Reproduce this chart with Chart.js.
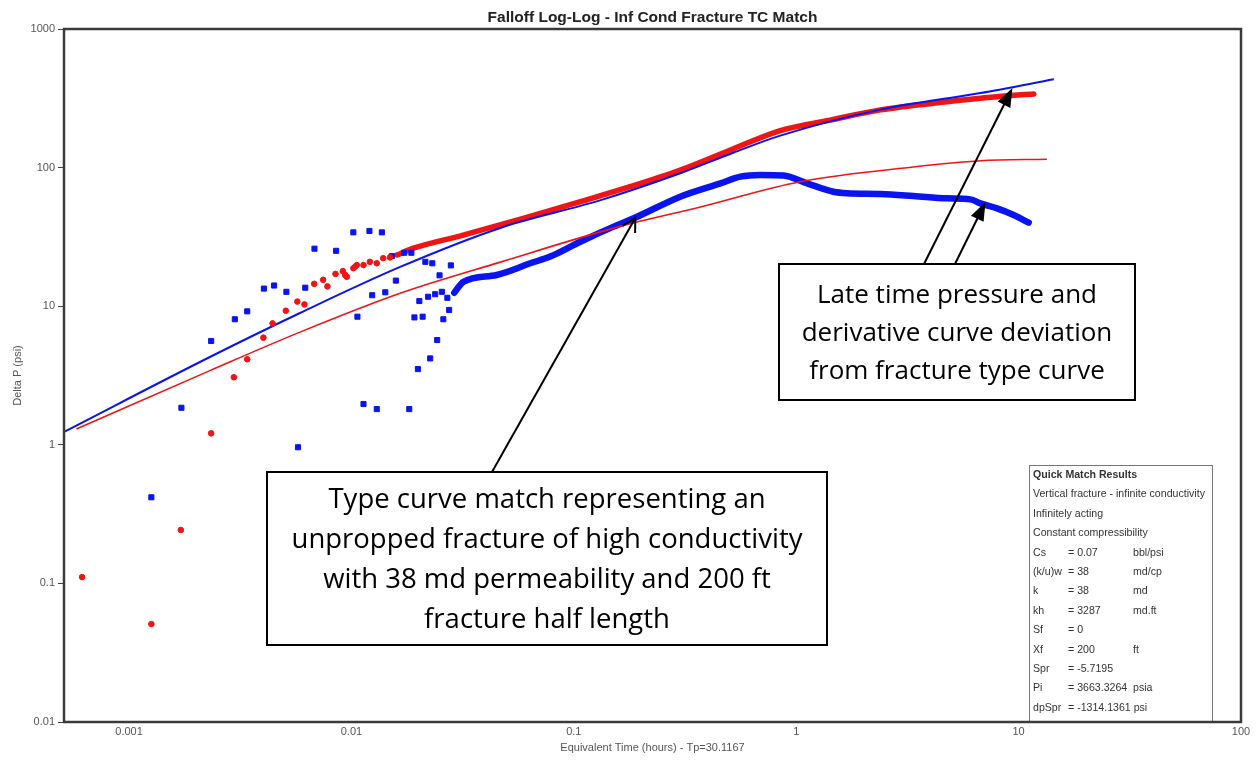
<!DOCTYPE html>
<html>
<head>
<meta charset="utf-8">
<title>Falloff Log-Log - Inf Cond Fracture TC Match</title>
<script src="https://cdn.jsdelivr.net/npm/chart.js@4.4.0/dist/chart.umd.min.js"></script>
<style>
    html, body { margin: 0; padding: 0; background: #fff; }
    #wrap { width: 1259px; height: 761px; }
</style>
</head>
<body>
<div id="wrap"><canvas id="falloffChart" width="1259" height="761"></canvas></div>
<script>
// axis ticks (decades only)
const xTickValues = [0.001, 0.01, 0.1, 1, 10, 100];
const yTickValues = [0.01, 0.1, 1, 10, 100, 1000];

// type curve - pressure (blue line)
const modelPressureTime = [0.00051, 0.00231, 0.00587, 0.01656, 0.0467, 0.131, 0.301, 0.521, 0.848, 2.39, 6.73, 14.4];
const modelPressureDp = [1.24, 4.3, 8.93, 19.2, 36.7, 58, 91, 128, 170, 262, 345, 434];

// type curve - derivative (red line)
const modelDerivTime = [0.00058, 0.00231, 0.00587, 0.01656, 0.0467, 0.157, 0.371, 1.04, 3.36, 6.73, 13.4];
const modelDerivDp = [1.30, 3.43, 6.5, 12.4, 20.8, 37.2, 52, 79, 101, 112, 115];

// measured delta P, early scattered points (red)
const pressureEarlyTime = [0.000615, 0.00126, 0.00171, 0.00234, 0.00296, 0.0034, 0.00402, 0.00442, 0.00507, 0.00571,
    0.00615, 0.0068, 0.00746, 0.0078, 0.00848, 0.00915, 0.00937, 0.00953, 0.0102, 0.0104,
    0.01057, 0.01133, 0.0121, 0.013, 0.0139, 0.0149];
const pressureEarlyDp = [0.111, 0.0509, 0.243, 1.21, 3.07, 4.14, 5.93, 7.52, 9.28, 10.8,
    10.3, 14.5, 15.5, 13.9, 17.1, 17.9, 16.8, 16.3, 18.8, 19.3,
    19.8, 19.8, 20.9, 20.4, 22.2, 22.5];

// measured delta P, dense part (red band)
const pressureTime = [0.016, 0.019, 0.0318, 0.0592, 0.107, 0.179, 0.301, 0.506, 0.848, 1.42, 2.39, 4.76, 8.0, 11.7];
const pressureDp = [23.4, 26.2, 32.6, 43.0, 56.8, 72.8, 96, 134, 185, 220, 261, 299, 325, 340];

// measured derivative, early scattered points (blue)
const derivEarlyTime = [0.00126, 0.00172, 0.00234, 0.00299, 0.0034, 0.00404, 0.00449, 0.0051, 0.00575, 0.0062,
    0.00682, 0.00853, 0.0102, 0.01064, 0.01133, 0.0124, 0.01205, 0.013, 0.0137, 0.0142,
    0.0152, 0.01584, 0.01726, 0.0182, 0.0186, 0.0192, 0.0199, 0.0202, 0.0209, 0.0215,
    0.0221, 0.0226, 0.0231, 0.0238, 0.0243, 0.0249, 0.0255, 0.0259, 0.027, 0.0275, 0.028];
const derivEarlyDp = [0.418, 1.85, 5.61, 8.05, 9.18, 13.4, 14.1, 12.7, 0.96, 13.6,
    26.0, 25.1, 34.1, 8.4, 1.97, 12.0, 34.9, 1.81, 34.1, 12.6,
    23.0, 15.3, 24.3, 1.81, 24.3, 8.3, 3.52, 10.9, 8.4, 20.9,
    11.7, 4.2, 20.4, 12.2, 5.7, 16.7, 12.7, 8.05, 11.5, 9.4, 19.7];

// measured derivative, dense part (blue band)
const derivTime = [0.029, 0.0319, 0.045, 0.0637, 0.0783, 0.107, 0.151, 0.186, 0.301, 0.456, 0.561, 0.69,
    0.877, 1.12, 1.47, 1.69, 2.39, 3.37, 4.76, 6.07, 6.73, 8.0, 9.5, 11.1];
const derivDp = [12.5, 15.0, 16.8, 20.4, 22.8, 29.2, 37.5, 43.1, 61.7, 77.0, 86.0, 88.5,
    87.7, 77.0, 67.0, 65.3, 64.5, 62.4, 60.0, 59.0, 55.2, 50.8, 45.5, 40.1];

// quick match results table
const matchHeader = ['Quick Match Results', 'Vertical fracture - infinite conductivity', 'Infinitely acting', 'Constant compressibility'];
const matchLabels = ['Cs', '(k/u)w', 'k', 'kh', 'Sf', 'Xf', 'Spr', 'Pi', 'dpSpr'];
const matchValues = ['= 0.07', '= 38', '= 38', '= 3287', '= 0', '= 200', '= -5.7195', '= 3663.3264', '= -1314.1361 psi'];
const matchUnits = ['bbl/psi', 'md/cp', 'md', 'md.ft', '', 'ft', '', 'psia', ''];

// callouts
const typeCurveNote = ['Type curve match representing an', 'unpropped fracture of high conductivity',
    'with 38 md permeability and 200 ft', 'fracture half length'];
const lateTimeNote = ['Late time pressure and', 'derivative curve deviation', 'from fracture type curve'];

const chartTitle = 'Falloff Log-Log - Inf Cond Fracture TC Match';
const BLUE = '#0a14f0';
const RED = '#f01414';
const AXIS_FONT = '"Liberation Sans", Arial, sans-serif';
const NOTE_FONT = '"Open Sans", "Noto Sans", sans-serif';

function pairUp(t, dp) {
    return t.map((v, i) => ({ x: v, y: dp[i] }));
}

function drawArrow(ctx, x1, y1, x2, y2, filled) {
    const ang = Math.atan2(y2 - y1, x2 - x1);
    const len = filled ? 20 : 15;
    const spread = filled ? 0.36 : 0.5;
    ctx.beginPath();
    ctx.moveTo(x1, y1);
    ctx.lineTo(filled ? x2 - Math.cos(ang) * len * 0.7 : x2, filled ? y2 - Math.sin(ang) * len * 0.7 : y2);
    ctx.stroke();
    const ax = x2 - Math.cos(ang - spread) * len, ay = y2 - Math.sin(ang - spread) * len;
    const bx = x2 - Math.cos(ang + spread) * len, by = y2 - Math.sin(ang + spread) * len;
    ctx.beginPath();
    if (filled) {
        ctx.moveTo(x2, y2); ctx.lineTo(ax, ay); ctx.lineTo(bx, by); ctx.closePath(); ctx.fill();
    } else {
        ctx.moveTo(ax, ay); ctx.lineTo(x2, y2); ctx.lineTo(bx, by); ctx.stroke();
    }
}

function drawNote(ctx, box, lines, lineStep) {
    ctx.fillStyle = '#fff';
    ctx.fillRect(box.x, box.y, box.w, box.h);
    ctx.strokeStyle = '#000';
    ctx.lineWidth = 2;
    ctx.strokeRect(box.x, box.y, box.w, box.h);
    ctx.fillStyle = '#000';
    ctx.font = box.size + 'px ' + NOTE_FONT;
    ctx.textAlign = 'center';
    ctx.textBaseline = 'middle';
    lines.forEach((s, i) => ctx.fillText(s, box.x + box.w / 2, box.y + box.firstLine + i * lineStep));
}

const overlayPlugin = {
    id: 'overlay',
    afterDraw(chart) {
        const ctx = chart.ctx;
        const area = chart.chartArea;
        const xs = chart.scales.x, ys = chart.scales.y;
        ctx.save();

        // quick match results box
        const qx = 1029, qy = 465;
        ctx.fillStyle = '#fff';
        ctx.fillRect(qx, qy, 183, area.bottom - qy);
        ctx.strokeStyle = '#777';
        ctx.lineWidth = 1;
        ctx.strokeRect(qx + 0.5, qy + 0.5, 183, area.bottom - qy);
        ctx.textAlign = 'left';
        ctx.textBaseline = 'middle';
        ctx.fillStyle = '#333';
        matchHeader.forEach((s, i) => {
            ctx.font = (i === 0 ? 'bold ' : '') + '10.6px ' + AXIS_FONT;
            ctx.fillText(s, qx + 4, qy + 10 + i * 19.4);
        });
        ctx.font = '10.6px ' + AXIS_FONT;
        matchLabels.forEach((s, i) => {
            const yy = qy + 10 + (i + 4) * 19.4;
            ctx.fillText(s, qx + 4, yy);
            ctx.fillText(matchValues[i], qx + 39, yy);
            ctx.fillText(matchUnits[i], qx + 104, yy);
        });

        // plot frame
        ctx.strokeStyle = '#3a3a3a';
        ctx.lineWidth = 2.5;
        ctx.strokeRect(area.left, area.top, area.right - area.left, area.bottom - area.top);

        // title
        ctx.fillStyle = '#222';
        ctx.font = 'bold 15.5px ' + AXIS_FONT;
        ctx.textAlign = 'center';
        ctx.textBaseline = 'middle';
        ctx.fillText(chartTitle, (area.left + area.right) / 2, area.top - 11);

        // callout boxes and arrows
        ctx.strokeStyle = '#000';
        ctx.fillStyle = '#000';
        ctx.lineWidth = 2;
        drawArrow(ctx, 492, 472, xs.getPixelForValue(0.189), ys.getPixelForValue(43.3), false);
        drawArrow(ctx, 924, 264, xs.getPixelForValue(9.38), ys.getPixelForValue(375), true);
        drawArrow(ctx, 955, 264, xs.getPixelForValue(7.1), ys.getPixelForValue(56.5), true);
        drawNote(ctx, { x: 267, y: 472, w: 560, h: 173, firstLine: 28, size: 27.5 }, typeCurveNote, 40);
        drawNote(ctx, { x: 779, y: 264, w: 356, h: 136, firstLine: 32, size: 26 }, lateTimeNote, 38);

        ctx.restore();
    }
};

const ctx = document.getElementById('falloffChart').getContext('2d');
new Chart(ctx, {
    type: 'scatter',
    data: {
        datasets: [
            {
                label: 'Delta P (early)',
                data: pairUp(pressureEarlyTime, pressureEarlyDp),
                backgroundColor: RED,
                borderColor: RED,
                pointStyle: 'circle',
                pointRadius: 2.8,
                order: 0
            },
            {
                label: 'Derivative (early)',
                data: pairUp(derivEarlyTime, derivEarlyDp),
                backgroundColor: BLUE,
                borderColor: BLUE,
                pointStyle: 'rect',
                pointRadius: 3.6,
                order: 0
            },
            {
                label: 'Type curve derivative',
                data: pairUp(modelDerivTime, modelDerivDp),
                showLine: true,
                borderColor: RED,
                borderWidth: 1.6,
                pointRadius: 0,
                cubicInterpolationMode: 'monotone',
                order: 1
            },
            {
                label: 'Type curve pressure',
                data: pairUp(modelPressureTime, modelPressureDp),
                showLine: true,
                borderColor: BLUE,
                borderWidth: 2,
                pointRadius: 0,
                cubicInterpolationMode: 'monotone',
                order: 2
            },
            {
                label: 'Delta P',
                data: pairUp(pressureTime, pressureDp),
                showLine: true,
                borderColor: RED,
                borderWidth: 5.5,
                borderCapStyle: 'round',
                borderJoinStyle: 'round',
                pointRadius: 0,
                cubicInterpolationMode: 'monotone',
                order: 3
            },
            {
                label: 'Derivative',
                data: pairUp(derivTime, derivDp),
                showLine: true,
                borderColor: BLUE,
                borderWidth: 6.5,
                borderCapStyle: 'round',
                borderJoinStyle: 'round',
                pointRadius: 0,
                cubicInterpolationMode: 'monotone',
                order: 4
            }
        ]
    },
    options: {
        responsive: false,
        animation: false,
        devicePixelRatio: 1,
        layout: { padding: { left: 0, right: 18, top: 29, bottom: 0 } },
        scales: {
            x: {
                type: 'logarithmic',
                min: 0.00051,
                max: 100,
                afterBuildTicks: (scale) => { scale.ticks = xTickValues.map(v => ({ value: v })); },
                afterFit: (scale) => { scale.height = 39; },
                ticks: {
                    autoSkip: false,
                    maxRotation: 0,
                    padding: 3,
                    color: '#555',
                    font: { family: AXIS_FONT, size: 11 },
                    callback: (value) => String(value)
                },
                grid: { display: false, drawTicks: false },
                border: { display: false },
                title: {
                    display: true,
                    text: 'Equivalent Time (hours) - Tp=30.1167',
                    color: '#555',
                    font: { family: AXIS_FONT, size: 11 },
                    padding: { top: 0, bottom: 6 }
                }
            },
            y: {
                type: 'logarithmic',
                min: 0.01,
                max: 1000,
                afterBuildTicks: (scale) => { scale.ticks = yTickValues.map(v => ({ value: v })); },
                afterFit: (scale) => { scale.width = 64; },
                ticks: {
                    autoSkip: false,
                    padding: 3,
                    color: '#555',
                    font: { family: AXIS_FONT, size: 11 },
                    callback: (value) => String(value)
                },
                grid: { drawOnChartArea: false, drawTicks: true, tickLength: 6, color: '#444' },
                border: { display: false },
                title: {
                    display: true,
                    text: 'Delta P (psi)',
                    color: '#555',
                    font: { family: AXIS_FONT, size: 11 },
                    padding: { top: 11, bottom: 0 }
                }
            }
        },
        plugins: {
            legend: { display: false },
            tooltip: { enabled: false },
            title: { display: false }
        }
    },
    plugins: [overlayPlugin]
});
</script>
</body>
</html>
